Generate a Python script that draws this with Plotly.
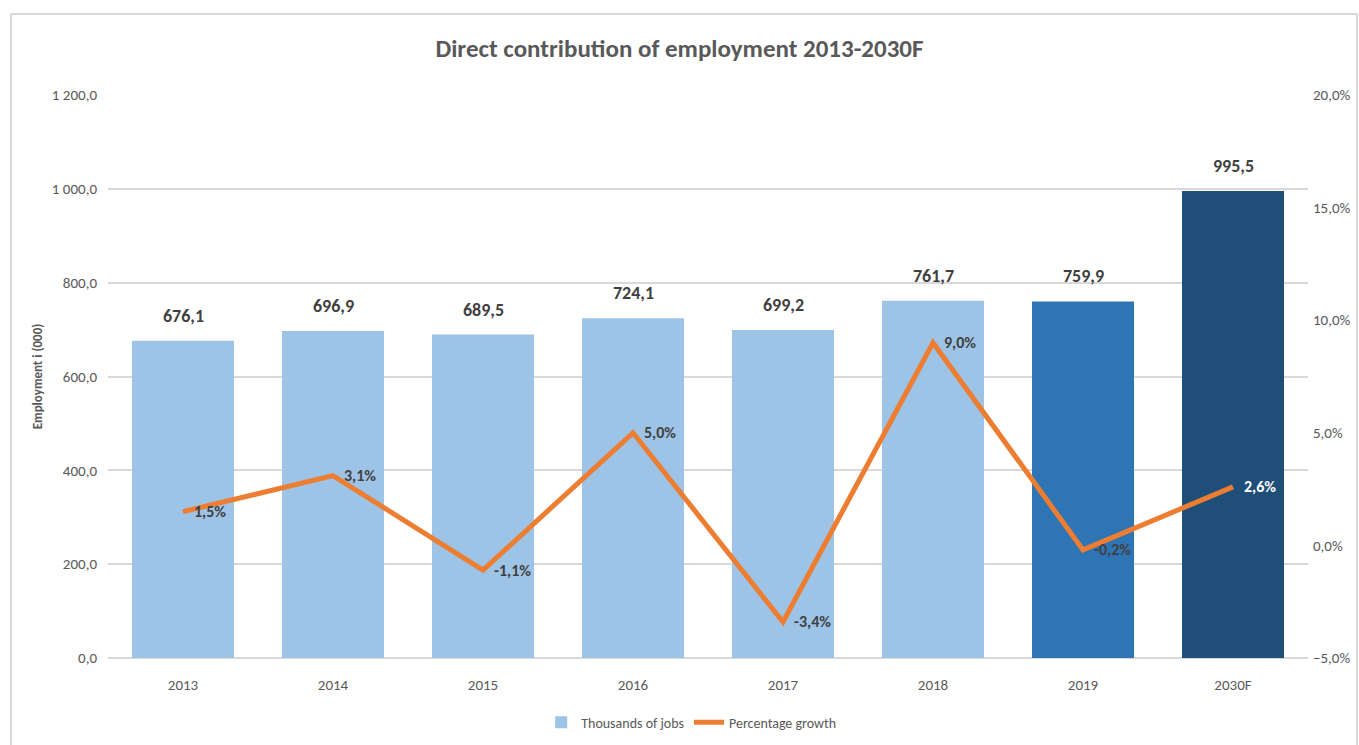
import plotly.graph_objects as go

# Employment data (thousands of jobs) and year-on-year growth (%)
years = ["2013", "2014", "2015", "2016", "2017", "2018", "2019", "2030F"]
jobs = [676.1, 696.9, 689.5, 724.1, 699.2, 761.7, 759.9, 995.5]
growth = [1.5, 3.1, -1.1, 5.0, -3.4, 9.0, -0.2, 2.6]

bar_colors = ["#9DC3E6"] * 6 + ["#2E75B6", "#1F4E79"]
growth_label_colors = ["#404040"] * 7 + ["#FFFFFF"]

FONT = "Carlito, Calibri, Lato, sans-serif"
GREY = "#595959"


def fmt_comma(v, suffix=""):
    return f"{v:.1f}".replace(".", ",") + suffix


fig = go.Figure()

fig.add_trace(go.Bar(
    x=years, y=jobs,
    name="Thousands of jobs",
    marker=dict(color=bar_colors, line=dict(width=0)),
    width=0.68,
    yaxis="y",
))

fig.add_trace(go.Scatter(
    x=years, y=growth,
    name="Percentage growth",
    mode="lines",
    line=dict(color="#ED7D31", width=5),
    cliponaxis=False,
    yaxis="y2",
))

# Value labels above the bars (category index positions)
for i, v in enumerate(jobs):
    fig.add_annotation(
        x=i, y=v, xref="x", yref="y",
        text=f"<b>{fmt_comma(v)}</b>",
        showarrow=False, yanchor="bottom", yshift=12,
        font=dict(family=FONT, size=18, color="#404040"),
    )

# Growth labels to the right of each point
for i, (g, c) in enumerate(zip(growth, growth_label_colors)):
    fig.add_annotation(
        x=i, y=g, xref="x", yref="y2",
        text=f"<b>{fmt_comma(g, '%')}</b>",
        showarrow=False, xanchor="left", yanchor="middle", xshift=9,
        font=dict(family=FONT, size=16, color=c),
    )

fig.update_layout(
    width=1359, height=745,
    margin=dict(l=108, r=51, t=95, b=87, autoexpand=False),
    paper_bgcolor="white",
    plot_bgcolor="white",
    separators=", ",
    font=dict(family=FONT, color=GREY, size=14),
    title=dict(
        text="<b>Direct contribution of employment 2013-2030F</b>",
        x=0.5, xanchor="center", y=0.935, yanchor="middle",
        font=dict(family=FONT, size=25, color=GREY),
    ),
    showlegend=True,
    legend=dict(
        orientation="h", x=0.486, xanchor="center", y=-0.115, yanchor="middle",
        font=dict(family=FONT, size=14, color=GREY),
        traceorder="normal",
    ),
    xaxis=dict(
        type="category",
        categoryorder="array", categoryarray=years,
        range=[-0.5, len(years) - 0.5],
        showgrid=False,
        showline=False,
        ticks="",
        ticklabelstandoff=16,
        automargin=False,
        tickfont=dict(family=FONT, size=15, color=GREY),
    ),
    yaxis=dict(
        range=[0, 1200],
        tick0=0, dtick=200,
        tickformat=",.1f",
        showgrid=True, gridcolor="#D9D9D9", gridwidth=1.5,
        zeroline=True, zerolinecolor="#D9D9D9", zerolinewidth=1.5,
        showline=False,
        ticks="",
        ticklabelstandoff=10,
        automargin=False,
        tickfont=dict(family=FONT, size=15, color=GREY),
        title=dict(
            text="<b>Employment i (000)</b>",
            font=dict(family=FONT, size=13, color=GREY),
            standoff=6,
        ),
    ),
    yaxis2=dict(
        overlaying="y", side="right",
        range=[-5, 20],
        tick0=-5, dtick=5,
        tickformat=".1f", ticksuffix="%",
        showgrid=False, zeroline=False, showline=False,
        ticks="",
        ticklabelstandoff=4,
        automargin=False,
        tickfont=dict(family=FONT, size=15, color=GREY),
    ),
)

# Outer chart frame
fig.add_shape(
    type="rect", xref="paper", yref="paper",
    x0=(11 - 108) / 1200, x1=(1357 - 108) / 1200,
    y0=(745 - 87 - 760) / 563, y1=(745 - 87 - 14) / 563,
    line=dict(color="#D9D9D9", width=2),
    fillcolor="rgba(0,0,0,0)",
    layer="below",
)

fig.write_html("out.html")
